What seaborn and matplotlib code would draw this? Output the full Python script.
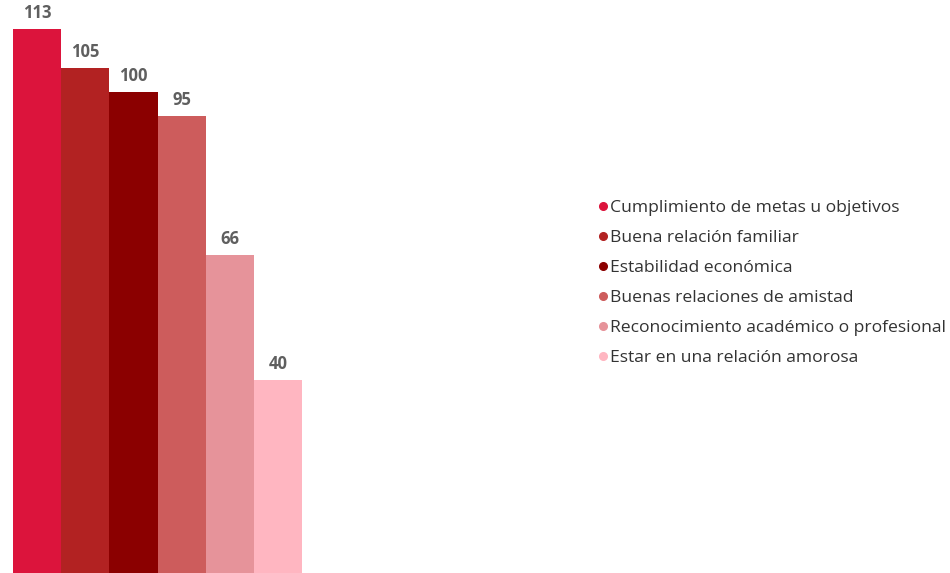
import matplotlib
matplotlib.use("Agg")
import matplotlib.pyplot as plt
from matplotlib.lines import Line2D
import seaborn as sns
import pandas as pd

categories = [
    "Cumplimiento de metas u objetivos",
    "Buena relación familiar",
    "Estabilidad económica",
    "Buenas relaciones de amistad",
    "Reconocimiento académico o profesional",
    "Estar en una relación amorosa",
]
values = [113, 105, 100, 95, 66, 40]
colors = ["#DC143C", "#B22222", "#8B0000", "#CD5C5C", "#E6939A", "#FFB6C1"]

df = pd.DataFrame({"categoria": categories, "valor": values})

sns.set_theme(style="white")
plt.rcParams["font.family"] = ["Open Sans", "DejaVu Sans"]

W, H = 950, 573
fig = plt.figure(figsize=(W / 100, H / 100), dpi=100)
ax = fig.add_axes([13 / W, 0, (302 - 13) / W, 1.0])

sns.barplot(data=df, x="categoria", y="valor", hue="categoria",
            palette=colors, width=1.0, legend=False, ax=ax,
            saturation=1, linewidth=0)

ax.set_xlim(-0.5, len(categories) - 0.5)
ax.set_ylim(0, 113 * H / 544)
ax.axis("off")

for i, v in enumerate(values):
    ax.annotate(str(v), (i, v), xytext=(0, 5), textcoords="offset points",
                ha="center", va="bottom", fontsize=12, fontweight="bold",
                color="#5f5f5f")

handles = [Line2D([0], [0], marker="o", linestyle="", markersize=5.5,
                  markerfacecolor=c, markeredgecolor=c) for c in colors]
fig.legend(handles, categories, loc="center left",
           bbox_to_anchor=(586 / W, 1 - 283 / H), frameon=False,
           fontsize=12.6, labelcolor="#333333", handletextpad=0.0,
           handlelength=0.9, labelspacing=0.79, borderpad=0)

fig.savefig("out.png", dpi=100)
